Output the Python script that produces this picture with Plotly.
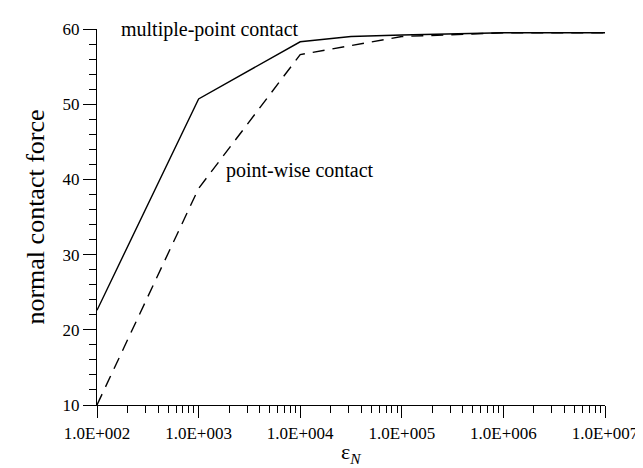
import plotly.graph_objects as go

eps_solid = [1e2, 1e3, 1e4, 3.16e4, 1e5, 1e6, 1e7]
force_solid = [22.6, 50.7, 58.3, 59.0, 59.2, 59.5, 59.5]
eps_dashed = [1e2, 1e3, 1e4, 1e5, 1e6, 1e7]
force_dashed = [10.0, 38.8, 56.6, 59.0, 59.5, 59.5]
x_tick_raw = ["100", "1000", "10000", "100000", "1000000", "10000000"]
x_ticktext = ["1.0E+002", "1.0E+003", "1.0E+004", "1.0E+005", "1.0E+006", "1.0E+007"]

FONT = "Liberation Serif"

fig = go.Figure()
fig.add_trace(go.Scatter(x=eps_solid, y=force_solid, mode="lines",
                         line=dict(color="black", width=1.4), showlegend=False))
fig.add_trace(go.Scatter(x=eps_dashed, y=force_dashed, mode="lines",
                         line=dict(color="black", width=1.4, dash="12px,8px"), showlegend=False))

fig.update_layout(
    width=643, height=468,
    margin=dict(l=89, r=46, t=16, b=71),
    paper_bgcolor="white", plot_bgcolor="white",
    font=dict(family=FONT, color="black", size=16),
    xaxis=dict(type="log", range=[2, 7], tickmode="linear", tick0=0, dtick=1,
               tickformat="d",
               labelalias=dict(zip(x_tick_raw, x_ticktext)),
               ticks="outside", ticklen=12, tickwidth=1.3, tickcolor="black",
               showline=True, linecolor="black", linewidth=1.3, showgrid=False, zeroline=False,
               minor=dict(ticks="outside", ticklen=7, tickwidth=1.3, tickcolor="black",
                          dtick="D1", showgrid=False),
               tickfont=dict(family=FONT, size=17)),
    yaxis=dict(range=[10, 60], tickmode="linear", tick0=10, dtick=10,
               ticks="outside", ticklen=13, tickwidth=1.3, tickcolor="black",
               showline=True, linecolor="black", linewidth=1.3, showgrid=False, zeroline=False,
               minor=dict(ticks="outside", ticklen=7, tickwidth=1.3, tickcolor="black",
                          tick0=10, dtick=2, showgrid=False),
               tickfont=dict(family=FONT, size=17),
               title=dict(text="normal contact force", font=dict(family=FONT, size=26), standoff=10)),
)

fig.add_annotation(x=0.5, y=0, xref="paper", yref="paper", xanchor="center", yanchor="middle",
                   yshift=-48, text="ε<sub><i>N</i></sub>", showarrow=False,
                   font=dict(family=FONT, size=22))
fig.add_annotation(x=0.043, y=1.0, xref="paper", yref="paper", xanchor="left", yanchor="middle",
                   text="multiple-point contact", showarrow=False, font=dict(family=FONT, size=20))
fig.add_annotation(x=0.250, y=0.625, xref="paper", yref="paper", xanchor="left", yanchor="middle",
                   text="point-wise contact", showarrow=False, font=dict(family=FONT, size=20))

fig.write_html("out.html")
